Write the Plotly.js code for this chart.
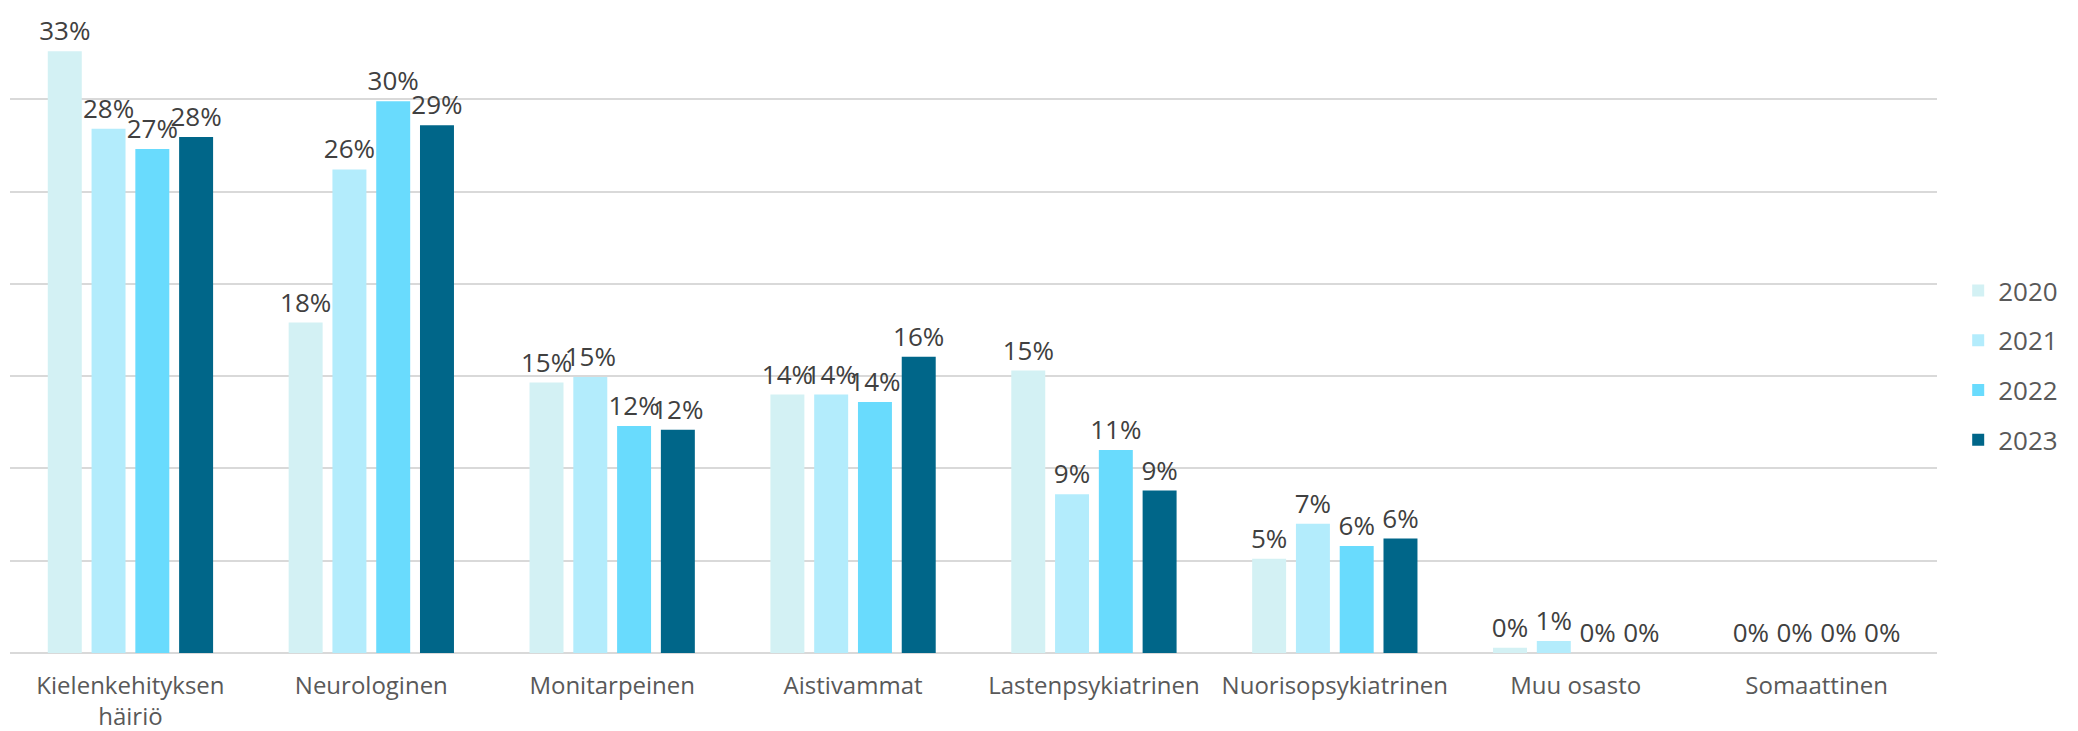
<!DOCTYPE html>
<html>
<head>
<meta charset="utf-8">
<script src="https://cdn.plot.ly/plotly-3.0.1.min.js"></script>
<style>html,body{margin:0;padding:0;background:#fff;}#chart{width:2078px;height:731px;}</style>
</head>
<body>
<div id="chart"></div>
<script>
const categories = ["Kielenkehityksen<br>häiriö", "Neurologinen", "Monitarpeinen", "Aistivammat", "Lastenpsykiatrinen", "Nuorisopsykiatrinen", "Muu osasto", "Somaattinen"];
const years = ["2020", "2021", "2022", "2023"];
const v2020 = [32.6, 17.9, 14.65, 14.0, 15.3, 5.1, 0.29, 0];
const v2021 = [28.4, 26.2, 14.96, 14.0, 8.6, 7.0, 0.65, 0];
const v2022 = [27.3, 29.9, 12.3, 13.6, 11.0, 5.8, 0, 0];
const v2023 = [27.95, 28.6, 12.1, 16.05, 8.8, 6.2, 0, 0];
const colors = ["#d3f1f4", "#b3ecfc", "#69dbfd", "#006689"];

const series = [v2020, v2021, v2022, v2023];
const traces = series.map((vals, i) => ({
  type: "bar",
  name: years[i],
  x: categories,
  y: vals,
  marker: {color: colors[i], line: {width: 10, color: "rgba(0,0,0,0)"}},
  texttemplate: "%{y:.0f}%",
  textposition: "outside",
  constraintext: "none",
  cliponaxis: false,
  textfont: {family: "Open Sans", size: 26, color: "#404040"},
  hoverinfo: "skip",
  legendgroup: "g" + i
}));

const layout = {
  width: 2078,
  height: 731,
  margin: {l: 10, r: 141, t: 7, b: 78, pad: 0},
  paper_bgcolor: "#ffffff",
  plot_bgcolor: "#ffffff",
  font: {family: "Open Sans", color: "#595959"},
  barmode: "group",
  bargap: 0.273,
  bargroupgap: 0.224,
  showlegend: true,
  legend: {
    x: 1.011, xanchor: "left", xref: "paper",
    y: 0.445, yanchor: "middle",
    font: {family: "Open Sans", size: 26, color: "#595959"},
    tracegroupgap: 13,
    traceorder: "grouped",
    bgcolor: "rgba(0,0,0,0)"
  },
  xaxis: {
    type: "category",
    showgrid: false,
    showline: false,
    ticks: "",
    ticklabelstandoff: 16,
    tickfont: {family: "Open Sans", size: 24, color: "#595959"},
    automargin: false
  },
  yaxis: {
    range: [0, 35],
    dtick: 5,
    tick0: 0,
    showticklabels: false,
    showgrid: true,
    gridcolor: "#d9d9d9",
    gridwidth: 2,
    zeroline: true,
    zerolinecolor: "#d9d9d9",
    zerolinewidth: 2,
    showline: false,
    ticks: "",
    automargin: false
  }
};

Plotly.newPlot("chart", traces, layout, {displayModeBar: false, staticPlot: true});
</script>
</body>
</html>
